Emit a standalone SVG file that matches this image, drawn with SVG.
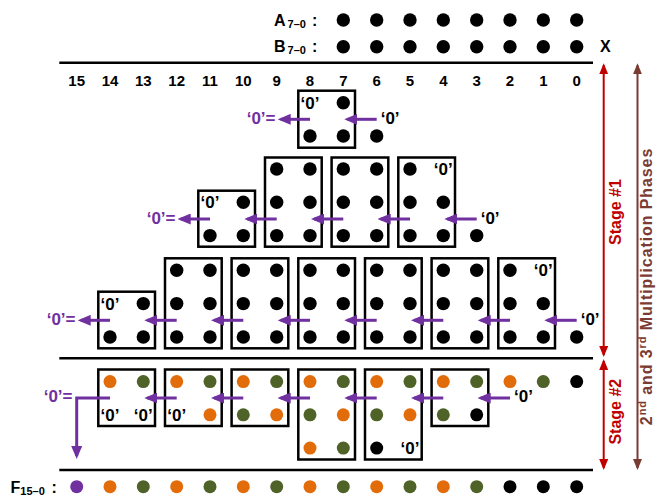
<svg xmlns="http://www.w3.org/2000/svg" width="656" height="499" viewBox="0 0 656 499">
<defs>
<marker id="ap" markerUnits="userSpaceOnUse" markerWidth="13" markerHeight="11" refX="10" refY="5.5" orient="auto"><path d="M0,0 L13,5.5 L0,11 z" fill="#7030A0"/></marker>
<marker id="ar" markerUnits="userSpaceOnUse" markerWidth="11" markerHeight="9" refX="9" refY="4.5" orient="auto-start-reverse"><path d="M0,0 L11,4.5 L0,9 z" fill="#C00000"/></marker>
<marker id="ab" markerUnits="userSpaceOnUse" markerWidth="11" markerHeight="9" refX="9" refY="4.5" orient="auto-start-reverse"><path d="M0,0 L11,4.5 L0,9 z" fill="#7A3B33"/></marker>
</defs>
<style>
text{font-family:"Liberation Sans",Arial,sans-serif;font-weight:bold}
.box{fill:none;stroke:#000;stroke-width:2.5}
.k{fill:#000}.o{fill:#E36C0A}.g{fill:#4F6228}.p{fill:#7030A0}
.z{font-size:17px;text-anchor:middle;fill:#000}
.zr{font-size:17px;fill:#000}
.zl{font-size:17px;text-anchor:end;fill:#7030A0}
.num{font-size:15px;text-anchor:middle;fill:#000}
.lbl{font-size:16px;fill:#000}
.sub{font-size:11px}
.rule{stroke:#000;stroke-width:2.5}
.pa{stroke:#7030A0;stroke-width:3;fill:none;marker-end:url(#ap)}
.ra{stroke:#C00000;stroke-width:2;marker-start:url(#ar);marker-end:url(#ar)}
.ba{stroke:#7A3B33;stroke-width:2;marker-start:url(#ab);marker-end:url(#ab)}
</style>
<rect width="656" height="499" fill="#fff"/>

<g id="operands">
<text class="lbl" x="274" y="25.5">A<tspan class="sub" dx="2" dy="2">7–0</tspan></text>
<text class="lbl" x="312" y="25.5">:</text>
<text class="lbl" x="274" y="52">B<tspan class="sub" dx="2" dy="2">7–0</tspan></text>
<text class="lbl" x="312" y="52">:</text>
<text class="lbl" x="600" y="52">X</text>
<g class="k">
<circle cx="343.3" cy="20" r="6.7"/><circle cx="376.7" cy="20" r="6.7"/><circle cx="410" cy="20" r="6.7"/><circle cx="443.3" cy="20" r="6.7"/><circle cx="476.7" cy="20" r="6.7"/><circle cx="510" cy="20" r="6.7"/><circle cx="543.3" cy="20" r="6.7"/><circle cx="576.7" cy="20" r="6.7"/>
<circle cx="343.3" cy="46.7" r="6.7"/><circle cx="376.7" cy="46.7" r="6.7"/><circle cx="410" cy="46.7" r="6.7"/><circle cx="443.3" cy="46.7" r="6.7"/><circle cx="476.7" cy="46.7" r="6.7"/><circle cx="510" cy="46.7" r="6.7"/><circle cx="543.3" cy="46.7" r="6.7"/><circle cx="576.7" cy="46.7" r="6.7"/>
</g>
</g>

<g id="rules">
<line class="rule" x1="59.3" y1="62.7" x2="593" y2="62.7"/>
<line class="rule" x1="59.3" y1="358.3" x2="593" y2="358.3"/>
<line class="rule" x1="59.3" y1="470" x2="593" y2="470"/>
</g>

<g id="columns">
<text class="num" x="76.7" y="85.7">15</text><text class="num" x="110" y="85.7">14</text><text class="num" x="143.3" y="85.7">13</text><text class="num" x="176.7" y="85.7">12</text><text class="num" x="210" y="85.7">11</text><text class="num" x="243.3" y="85.7">10</text><text class="num" x="276.7" y="85.7">9</text><text class="num" x="310" y="85.7">8</text><text class="num" x="343.3" y="85.7">7</text><text class="num" x="376.7" y="85.7">6</text><text class="num" x="410" y="85.7">5</text><text class="num" x="443.3" y="85.7">4</text><text class="num" x="476.7" y="85.7">3</text><text class="num" x="510" y="85.7">2</text><text class="num" x="543.3" y="85.7">1</text><text class="num" x="576.7" y="85.7">0</text>
</g>

<!-- Stage 1, group 1 -->
<g id="s1a-b8">
<rect class="box" x="298.3" y="90.7" width="56.7" height="57"/>
<text class="z" x="310" y="108.5">‘0’</text>
<circle class="k" cx="343.3" cy="102.7" r="6.7"/>
<circle class="k" cx="310" cy="136" r="6.7"/><circle class="k" cx="343.3" cy="136" r="6.7"/>
</g>
<g id="s1a-extra"><circle class="k" cx="376.7" cy="136" r="6.7"/></g>

<!-- Stage 1, group 2 -->
<g id="s1b-b11">
<rect class="box" x="198.3" y="190.7" width="56.7" height="56"/>
<text class="z" x="210" y="208.3">‘0’</text>
<circle class="k" cx="243.3" cy="202.3" r="6.7"/>
<circle class="k" cx="210" cy="235.6" r="6.7"/><circle class="k" cx="243.3" cy="235.6" r="6.7"/>
</g>
<g id="s1b-b9">
<rect class="box" x="265" y="157.5" width="56.7" height="89.2"/>
<circle class="k" cx="276.7" cy="169" r="6.7"/><circle class="k" cx="310" cy="169" r="6.7"/>
<circle class="k" cx="276.7" cy="202.3" r="6.7"/><circle class="k" cx="310" cy="202.3" r="6.7"/>
<circle class="k" cx="276.7" cy="235.6" r="6.7"/><circle class="k" cx="310" cy="235.6" r="6.7"/>
</g>
<g id="s1b-b7">
<rect class="box" x="331.6" y="157.5" width="56.7" height="89.2"/>
<circle class="k" cx="343.3" cy="169" r="6.7"/><circle class="k" cx="376.7" cy="169" r="6.7"/>
<circle class="k" cx="343.3" cy="202.3" r="6.7"/><circle class="k" cx="376.7" cy="202.3" r="6.7"/>
<circle class="k" cx="343.3" cy="235.6" r="6.7"/><circle class="k" cx="376.7" cy="235.6" r="6.7"/>
</g>
<g id="s1b-b5">
<rect class="box" x="398.3" y="157.5" width="56.7" height="89.2"/>
<circle class="k" cx="410" cy="169" r="6.7"/><text class="z" x="443.3" y="175">‘0’</text>
<circle class="k" cx="410" cy="202.3" r="6.7"/><circle class="k" cx="443.3" cy="202.3" r="6.7"/>
<circle class="k" cx="410" cy="235.6" r="6.7"/><circle class="k" cx="443.3" cy="235.6" r="6.7"/>
</g>
<g id="s1b-extra"><circle class="k" cx="476.7" cy="235.6" r="6.7"/></g>

<!-- Stage 1, group 3 -->
<g id="s1c-b14">
<rect class="box" x="98.3" y="291.7" width="56.7" height="56.6"/>
<text class="z" x="110" y="309.6">‘0’</text>
<circle class="k" cx="143.3" cy="303.6" r="6.7"/>
<circle class="k" cx="110" cy="337" r="6.7"/><circle class="k" cx="143.3" cy="337" r="6.7"/>
</g>
<g id="s1c-b12">
<rect class="box" x="165" y="258.3" width="56.7" height="90"/>
<circle class="k" cx="176.7" cy="270.3" r="6.7"/><circle class="k" cx="210" cy="270.3" r="6.7"/>
<circle class="k" cx="176.7" cy="303.6" r="6.7"/><circle class="k" cx="210" cy="303.6" r="6.7"/>
<circle class="k" cx="176.7" cy="337" r="6.7"/><circle class="k" cx="210" cy="337" r="6.7"/>
</g>
<g id="s1c-b10">
<rect class="box" x="231.6" y="258.3" width="56.7" height="90"/>
<circle class="k" cx="243.3" cy="270.3" r="6.7"/><circle class="k" cx="276.7" cy="270.3" r="6.7"/>
<circle class="k" cx="243.3" cy="303.6" r="6.7"/><circle class="k" cx="276.7" cy="303.6" r="6.7"/>
<circle class="k" cx="243.3" cy="337" r="6.7"/><circle class="k" cx="276.7" cy="337" r="6.7"/>
</g>
<g id="s1c-b8">
<rect class="box" x="298.3" y="258.3" width="56.7" height="90"/>
<circle class="k" cx="310" cy="270.3" r="6.7"/><circle class="k" cx="343.3" cy="270.3" r="6.7"/>
<circle class="k" cx="310" cy="303.6" r="6.7"/><circle class="k" cx="343.3" cy="303.6" r="6.7"/>
<circle class="k" cx="310" cy="337" r="6.7"/><circle class="k" cx="343.3" cy="337" r="6.7"/>
</g>
<g id="s1c-b6">
<rect class="box" x="365" y="258.3" width="56.7" height="90"/>
<circle class="k" cx="376.7" cy="270.3" r="6.7"/><circle class="k" cx="410" cy="270.3" r="6.7"/>
<circle class="k" cx="376.7" cy="303.6" r="6.7"/><circle class="k" cx="410" cy="303.6" r="6.7"/>
<circle class="k" cx="376.7" cy="337" r="6.7"/><circle class="k" cx="410" cy="337" r="6.7"/>
</g>
<g id="s1c-b4">
<rect class="box" x="431.6" y="258.3" width="56.7" height="90"/>
<circle class="k" cx="443.3" cy="270.3" r="6.7"/><circle class="k" cx="476.7" cy="270.3" r="6.7"/>
<circle class="k" cx="443.3" cy="303.6" r="6.7"/><circle class="k" cx="476.7" cy="303.6" r="6.7"/>
<circle class="k" cx="443.3" cy="337" r="6.7"/><circle class="k" cx="476.7" cy="337" r="6.7"/>
</g>
<g id="s1c-b2">
<rect class="box" x="498.3" y="258.3" width="56.7" height="90"/>
<circle class="k" cx="510" cy="270.3" r="6.7"/><text class="z" x="543.3" y="276.3">‘0’</text>
<circle class="k" cx="510" cy="303.6" r="6.7"/><circle class="k" cx="543.3" cy="303.6" r="6.7"/>
<circle class="k" cx="510" cy="337" r="6.7"/><circle class="k" cx="543.3" cy="337" r="6.7"/>
</g>
<g id="s1c-extra"><circle class="k" cx="576.7" cy="337" r="6.7"/></g>

<!-- Stage 2 -->
<g id="s2-b14">
<rect class="box" x="98.3" y="369.5" width="56.7" height="56.5"/>
<circle class="o" cx="110" cy="381.6" r="6.5"/><circle class="g" cx="143.3" cy="381.6" r="6.5"/>
<text class="z" x="110" y="420.8">‘0’</text><text class="z" x="143.3" y="420.8">‘0’</text>
</g>
<g id="s2-b12">
<rect class="box" x="165" y="369.5" width="56.7" height="56.5"/>
<circle class="o" cx="176.7" cy="381.6" r="6.5"/><circle class="g" cx="210" cy="381.6" r="6.5"/>
<text class="z" x="176.7" y="420.8">‘0’</text><circle class="o" cx="210" cy="414.8" r="6.5"/>
</g>
<g id="s2-b10">
<rect class="box" x="231.6" y="369.5" width="56.7" height="56.5"/>
<circle class="o" cx="243.3" cy="381.6" r="6.5"/><circle class="g" cx="276.7" cy="381.6" r="6.5"/>
<circle class="g" cx="243.3" cy="414.8" r="6.5"/><circle class="o" cx="276.7" cy="414.8" r="6.5"/>
</g>
<g id="s2-b8">
<rect class="box" x="298.3" y="369.5" width="56.7" height="90"/>
<circle class="o" cx="310" cy="381.6" r="6.5"/><circle class="g" cx="343.3" cy="381.6" r="6.5"/>
<circle class="g" cx="310" cy="414.8" r="6.5"/><circle class="o" cx="343.3" cy="414.8" r="6.5"/>
<circle class="o" cx="310" cy="448.1" r="6.5"/><circle class="g" cx="343.3" cy="448.1" r="6.5"/>
</g>
<g id="s2-b6">
<rect class="box" x="365" y="369.5" width="56.7" height="90"/>
<circle class="o" cx="376.7" cy="381.6" r="6.5"/><circle class="g" cx="410" cy="381.6" r="6.5"/>
<circle class="g" cx="376.7" cy="414.8" r="6.5"/><circle class="o" cx="410" cy="414.8" r="6.5"/>
<circle class="k" cx="376.7" cy="448.1" r="6.5"/><text class="z" x="410" y="454.1">‘0’</text>
</g>
<g id="s2-b4">
<rect class="box" x="431.6" y="369.5" width="56.7" height="56.5"/>
<circle class="o" cx="443.3" cy="381.6" r="6.5"/><circle class="g" cx="476.7" cy="381.6" r="6.5"/>
<circle class="g" cx="443.3" cy="414.8" r="6.5"/><circle class="k" cx="476.7" cy="414.8" r="6.5"/>
</g>
<g id="s2-extra">
<circle class="o" cx="510" cy="381.6" r="6.5"/><circle class="g" cx="543.3" cy="381.6" r="6.5"/><circle class="k" cx="576.7" cy="381.6" r="6.5"/>
</g>

<!-- Final result -->
<g id="result">
<text class="lbl" x="10.5" y="493.3">F<tspan class="sub" dy="2">15–0</tspan></text>
<text class="lbl" x="51.5" y="493.3">:</text>
<circle class="p" cx="76.7" cy="486.7" r="6.5"/><circle class="o" cx="110" cy="486.7" r="6.5"/><circle class="g" cx="143.3" cy="486.7" r="6.5"/><circle class="o" cx="176.7" cy="486.7" r="6.5"/><circle class="g" cx="210" cy="486.7" r="6.5"/><circle class="o" cx="243.3" cy="486.7" r="6.5"/><circle class="g" cx="276.7" cy="486.7" r="6.5"/><circle class="o" cx="310" cy="486.7" r="6.5"/><circle class="g" cx="343.3" cy="486.7" r="6.5"/><circle class="o" cx="376.7" cy="486.7" r="6.5"/><circle class="g" cx="410" cy="486.7" r="6.5"/><circle class="o" cx="443.3" cy="486.7" r="6.5"/><circle class="g" cx="476.7" cy="486.7" r="6.5"/><circle class="k" cx="510" cy="486.7" r="6.5"/><circle class="k" cx="543.3" cy="486.7" r="6.5"/><circle class="k" cx="576.7" cy="486.7" r="6.5"/>
</g>

<g id="connectors">
<!-- stage 1 group 1 -->
<line class="pa" x1="376.7" y1="119.3" x2="347.3" y2="119.3"/>
<line class="pa" x1="310" y1="119.3" x2="280.7" y2="119.3"/>
<!-- stage 1 group 2 -->
<line class="pa" x1="476.7" y1="219" x2="447.3" y2="219"/>
<line class="pa" x1="410" y1="219" x2="380.7" y2="219"/>
<line class="pa" x1="343.3" y1="219" x2="314" y2="219"/>
<line class="pa" x1="276.7" y1="219" x2="247.3" y2="219"/>
<line class="pa" x1="210" y1="219" x2="180.7" y2="219"/>
<!-- stage 1 group 3 -->
<line class="pa" x1="576.7" y1="320.3" x2="547.3" y2="320.3"/>
<line class="pa" x1="510" y1="320.3" x2="480.7" y2="320.3"/>
<line class="pa" x1="443.3" y1="320.3" x2="414" y2="320.3"/>
<line class="pa" x1="376.7" y1="320.3" x2="347.3" y2="320.3"/>
<line class="pa" x1="310" y1="320.3" x2="280.7" y2="320.3"/>
<line class="pa" x1="243.3" y1="320.3" x2="214" y2="320.3"/>
<line class="pa" x1="176.7" y1="320.3" x2="147.3" y2="320.3"/>
<line class="pa" x1="110" y1="320.3" x2="80.7" y2="320.3"/>
<!-- stage 2 -->
<line class="pa" x1="510" y1="398" x2="480.7" y2="398"/>
<line class="pa" x1="443.3" y1="398" x2="414" y2="398"/>
<line class="pa" x1="376.7" y1="398" x2="347.3" y2="398"/>
<line class="pa" x1="310" y1="398" x2="280.7" y2="398"/>
<line class="pa" x1="243.3" y1="398" x2="214" y2="398"/>
<line class="pa" x1="176.7" y1="398" x2="147.3" y2="398"/>
<path class="pa" d="M110,398 H76.7 V456"/>
<!-- stage spans -->
<line class="ra" x1="603.7" y1="65.3" x2="603.7" y2="355"/>
<line class="ra" x1="603.7" y1="361" x2="603.7" y2="468"/>
<line class="ba" x1="637.5" y1="65.3" x2="637.5" y2="468"/>
</g>

<g id="labels">
<text class="zl" x="275.5" y="123.8">‘0’=</text>
<text class="zl" x="175.5" y="223.5">‘0’=</text>
<text class="zl" x="75.5" y="324.8">‘0’=</text>
<text class="zl" x="72.5" y="402">‘0’=</text>
<text class="zr" x="380.7" y="123.8">‘0’</text>
<text class="zr" x="480.7" y="223.5">‘0’</text>
<text class="zr" x="580.7" y="324.8">‘0’</text>
<text class="zr" x="514" y="402">‘0’</text>
<text transform="translate(621,212) rotate(-90)" font-size="16" text-anchor="middle" fill="#C00000">Stage #1</text>
<text transform="translate(621,411.7) rotate(-90)" font-size="16" text-anchor="middle" fill="#C00000">Stage #2</text>
<text transform="translate(652,286.5) rotate(-90)" font-size="16" letter-spacing="0.9" text-anchor="middle" fill="#7A3B33">2<tspan font-size="11" dy="-6">nd</tspan><tspan dy="6"> and 3</tspan><tspan font-size="11" dy="-6">rd</tspan><tspan dy="6"> Multiplication Phases</tspan></text>
</g>
</svg>
